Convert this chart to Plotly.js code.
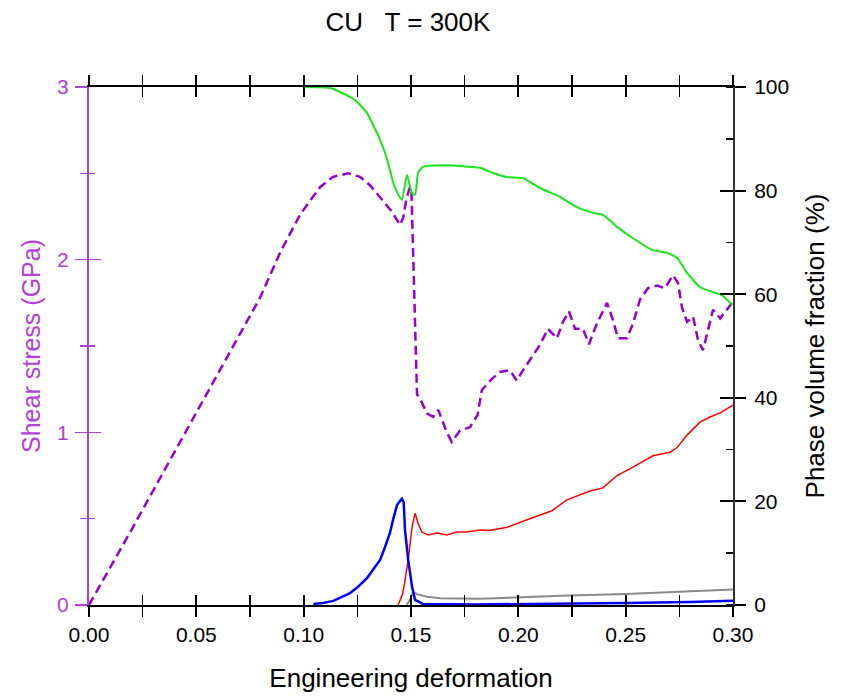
<!DOCTYPE html>
<html>
<head>
<meta charset="utf-8">
<script src="https://cdn.plot.ly/plotly-3.0.1.min.js"></script>
<style>html,body{margin:0;padding:0;background:#fff;}#chart{width:841px;height:696px;}</style>
</head>
<body>
<div id="chart"></div>
<script>
// Shear stress (GPa), left axis
const stressX = [0, 0.02, 0.04, 0.06, 0.0797, 0.089, 0.0983, 0.1076, 0.1137, 0.1207, 0.1262, 0.131, 0.1356, 0.141, 0.1449, 0.1463, 0.148, 0.1495, 0.1502, 0.1512, 0.152, 0.1528, 0.154, 0.1574, 0.1603, 0.1627, 0.1667, 0.169, 0.1728, 0.1775, 0.181, 0.183, 0.1877, 0.1915, 0.196, 0.1993, 0.2017, 0.2054, 0.210, 0.2138, 0.218, 0.2208, 0.2236, 0.2264, 0.2301, 0.2329, 0.2366, 0.2394, 0.2413, 0.2441, 0.2464, 0.2506, 0.2534, 0.2567, 0.2604, 0.2646, 0.2683, 0.272, 0.2744, 0.2762, 0.2786, 0.2814, 0.2837, 0.286, 0.2884, 0.2907, 0.294, 0.2963, 0.2996];
const stressY = [0, 0.44, 0.89, 1.34, 1.78, 2.04, 2.26, 2.42, 2.48, 2.50, 2.48, 2.43, 2.36, 2.28, 2.20, 2.24, 2.36, 2.42, 2.40, 1.90, 1.50, 1.22, 1.20, 1.11, 1.09, 1.13, 1.00, 0.944, 1.01, 1.03, 1.10, 1.245, 1.31, 1.35, 1.36, 1.30, 1.35, 1.42, 1.505, 1.60, 1.545, 1.64, 1.70, 1.60, 1.60, 1.51, 1.63, 1.70, 1.75, 1.65, 1.545, 1.545, 1.63, 1.77, 1.835, 1.85, 1.835, 1.91, 1.865, 1.725, 1.64, 1.67, 1.535, 1.475, 1.60, 1.71, 1.66, 1.70, 1.75];

// Phase volume fractions (%), right axis
const greenX = [0.100, 0.1123, 0.1216, 0.1247, 0.1295, 0.1323, 0.1356, 0.1379, 0.1402, 0.1416, 0.1435, 0.1458, 0.1481, 0.1505, 0.1519, 0.1533, 0.1556, 0.1667, 0.1742, 0.1821, 0.1882, 0.1947, 0.2022, 0.2101, 0.2194, 0.2273, 0.2348, 0.2394, 0.246, 0.2534, 0.2627, 0.2692, 0.274, 0.2786, 0.2846, 0.2907, 0.2949, 0.2996];
const greenY = [100, 99.8, 98.1, 97.2, 95.0, 92.7, 89.8, 87.3, 84.0, 81.7, 79.7, 78.2, 83.0, 79.5, 79.2, 83.4, 84.6, 84.9, 84.7, 84.4, 83.4, 82.6, 82.4, 80.5, 78.8, 76.8, 75.7, 75.3, 73.0, 70.8, 68.5, 68.0, 67.0, 64.1, 61.4, 60.4, 59.8, 57.9];

const redX = [0.144, 0.146, 0.147, 0.1487, 0.1505, 0.1519, 0.1533, 0.155, 0.158, 0.162, 0.1667, 0.1714, 0.176, 0.182, 0.1865, 0.1948, 0.2031, 0.210, 0.2156, 0.2226, 0.2334, 0.2394, 0.246, 0.2534, 0.2627, 0.2706, 0.274, 0.2786, 0.2846, 0.2893, 0.294, 0.300];
const redY = [0, 2.0, 4.2, 8.7, 15.1, 17.7, 15.8, 14.1, 13.5, 13.9, 13.5, 14.1, 14.1, 14.5, 14.4, 15.0, 16.3, 17.3, 18.2, 20.3, 22.0, 22.6, 25.0, 26.6, 28.8, 29.5, 30.4, 32.8, 35.3, 36.3, 37.1, 38.6];

const blueX = [0.1045, 0.109, 0.1138, 0.1183, 0.1216, 0.1253, 0.1295, 0.1323, 0.1356, 0.1379, 0.1402, 0.1416, 0.1435, 0.1449, 0.1458, 0.1466, 0.1472, 0.1487, 0.1505, 0.1519, 0.1556, 0.18, 0.22, 0.25, 0.28, 0.30];
const blueY = [0.2, 0.4, 0.8, 1.6, 2.3, 3.5, 5.2, 6.8, 8.7, 11.2, 13.9, 16.4, 19.3, 20.1, 20.5, 19.8, 14.5, 8.7, 3.5, 1.0, 0.2, 0.1, 0.2, 0.4, 0.6, 0.8];

const grayX = [0.148, 0.1495, 0.151, 0.1528, 0.1574, 0.1635, 0.182, 0.20, 0.22, 0.25, 0.28, 0.30];
const grayY = [0, 1.0, 2.5, 2.1, 1.6, 1.3, 1.2, 1.5, 1.8, 2.1, 2.6, 3.0];

const xTickVals = [0, 0.05, 0.10, 0.15, 0.20, 0.25, 0.30];
const xTickText = ["0.00", "0.05", "0.10", "0.15", "0.20", "0.25", "0.30"];

const PURPLE_AXIS = "#b23fd8";
const PURPLE_LINE = "#9400d3";
const FONT = "Liberation Sans, Arial, sans-serif";

const traces = [
  {x: stressX, y: stressY, xaxis: "x", yaxis: "y", mode: "lines",
   line: {color: PURPLE_LINE, width: 2.5, dash: "9px,5px"}, hoverinfo: "skip"},
  {x: greenX, y: greenY, xaxis: "x", yaxis: "y2", mode: "lines",
   line: {color: "#19e619", width: 2, shape: "spline", smoothing: 0.5}, hoverinfo: "skip"},
  {x: grayX, y: grayY, xaxis: "x", yaxis: "y2", mode: "lines",
   line: {color: "#8a8a8a", width: 2}, hoverinfo: "skip"},
  {x: redX, y: redY, xaxis: "x", yaxis: "y2", mode: "lines",
   line: {color: "#ff0000", width: 1.5}, hoverinfo: "skip"},
  {x: blueX, y: blueY, xaxis: "x", yaxis: "y2", mode: "lines",
   line: {color: "#0000ff", width: 2.5}, hoverinfo: "skip"},
  {x: [], y: [], xaxis: "x2", yaxis: "y3", mode: "lines", hoverinfo: "skip"},
  {x: [], y: [], xaxis: "x2", yaxis: "y4", mode: "lines", hoverinfo: "skip"}
];

const layout = {
  width: 841, height: 696,
  margin: {l: 89, r: 108, t: 87, b: 91, pad: 0},
  paper_bgcolor: "#ffffff", plot_bgcolor: "#ffffff",
  showlegend: false,
  font: {family: FONT, size: 21, color: "#000"},
  title: {text: "CU\u00a0\u00a0\u00a0T = 300K", x: 0.485, xanchor: "center", y: 0.968, yanchor: "middle",
          font: {family: FONT, size: 26, color: "#000"}},
  xaxis: {
    range: [0, 0.3], tickvals: xTickVals, ticktext: xTickText,
    ticks: "outside", ticklen: 10, tickwidth: 2, tickcolor: "#000",
    minor: {dtick: 0.025, tick0: 0, ticks: "outside", ticklen: 6, tickwidth: 1.5, tickcolor: "#000"},
    showline: true, linecolor: "#000", linewidth: 2, mirror: "allticks",
    showgrid: false, zeroline: false, anchor: "y",
    tickfont: {family: FONT, size: 21, color: "#000"},
    ticklabelstandoff: 0,
    title: {text: "Engineering deformation", standoff: 24, font: {family: FONT, size: 26, color: "#000"}},
    automargin: false
  },
  xaxis2: {
    range: [0, 0.3], overlaying: "x", anchor: "y", side: "bottom",
    tickvals: xTickVals, showticklabels: false,
    ticks: "inside", ticklen: 10, tickwidth: 2, tickcolor: "#000",
    minor: {dtick: 0.025, tick0: 0, ticks: "inside", ticklen: 6, tickwidth: 1.5, tickcolor: "#000"},
    showline: false, mirror: "allticks", showgrid: false, zeroline: false
  },
  yaxis: {
    range: [0, 3], dtick: 1, tick0: 0,
    ticks: "outside", ticklen: 12, tickwidth: 1.5, tickcolor: PURPLE_AXIS,
    minor: {dtick: 0.5, tick0: 0, ticks: "outside", ticklen: 7, tickwidth: 1.5, tickcolor: PURPLE_AXIS},
    showline: true, linecolor: PURPLE_AXIS, linewidth: 2,
    showgrid: false, zeroline: false, anchor: "x",
    tickfont: {family: FONT, size: 21, color: PURPLE_AXIS},
    ticklabelstandoff: 2,
    title: {text: "Shear stress (GPa)", standoff: 9, font: {family: FONT, size: 25, color: PURPLE_AXIS}},
    automargin: false
  },
  yaxis3: {
    range: [0, 3], dtick: 1, tick0: 0, overlaying: "y", anchor: "x", side: "left",
    showticklabels: false,
    ticks: "inside", ticklen: 12, tickwidth: 1.5, tickcolor: PURPLE_AXIS,
    minor: {dtick: 0.5, tick0: 0, ticks: "inside", ticklen: 6, tickwidth: 1.5, tickcolor: PURPLE_AXIS},
    showline: false, showgrid: false, zeroline: false
  },
  yaxis2: {
    range: [0, 100], dtick: 20, tick0: 0, overlaying: "y", side: "right", anchor: "x",
    ticks: "outside", ticklen: 11, tickwidth: 2, tickcolor: "#000",
    minor: {dtick: 10, tick0: 0, ticks: "inside", ticklen: 7, tickwidth: 1.5, tickcolor: "#000"},
    showline: true, linecolor: "#333", linewidth: 2,
    showgrid: false, zeroline: false,
    tickfont: {family: FONT, size: 21, color: "#000"},
    ticklabelstandoff: 4,
    title: {text: "Phase volume fraction (%)", standoff: 18, font: {family: FONT, size: 26, color: "#000"}},
    automargin: false
  },
  yaxis4: {
    range: [0, 100], dtick: 20, tick0: 0, overlaying: "y", side: "right", anchor: "x",
    showticklabels: false,
    ticks: "inside", ticklen: 13, tickwidth: 2, tickcolor: "#000",
    showline: false, showgrid: false, zeroline: false
  }
};

Plotly.newPlot("chart", traces, layout, {staticPlot: true, displayModeBar: false});
</script>
</body>
</html>
